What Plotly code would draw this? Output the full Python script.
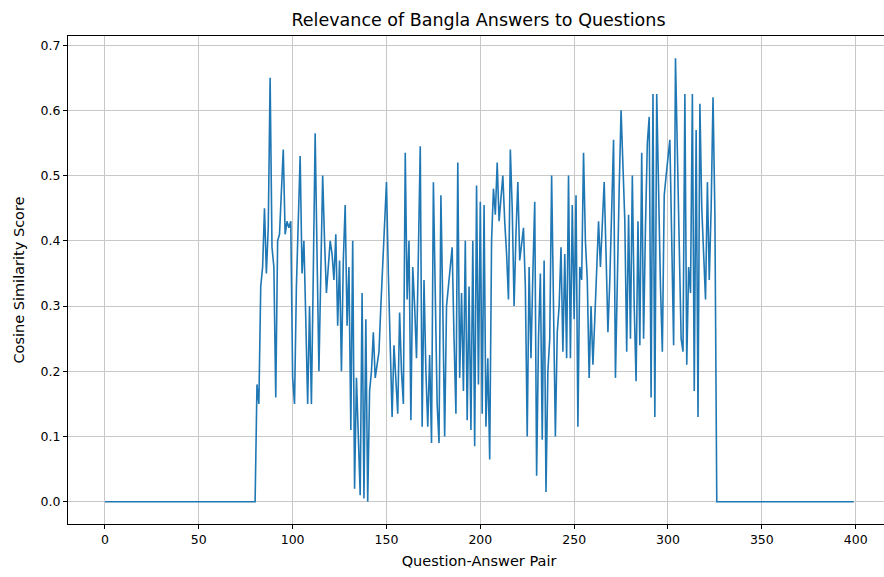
import plotly.graph_objects as go

# Cosine similarity scores per question-answer pair (index 0..399)
leading_zeros = [0.0] * 81  # indices 0..80
active_scores = [
    0.18, 0.15, 0.33, 0.36, 0.45, 0.35, 0.42, 0.65, 0.39,  # 81-89
    0.36, 0.16, 0.40, 0.41, 0.47, 0.54, 0.41, 0.43, 0.42, 0.43,  # 90-99
    0.19, 0.15, 0.33, 0.45, 0.53, 0.35, 0.40, 0.28, 0.15, 0.30,  # 100-109
    0.15, 0.35, 0.565, 0.38, 0.20, 0.35, 0.50, 0.40, 0.32, 0.36,  # 110-119
    0.40, 0.38, 0.34, 0.41, 0.27, 0.37, 0.20, 0.37, 0.455, 0.27,  # 120-129
    0.36, 0.11, 0.40, 0.02, 0.19, 0.10, 0.01, 0.32, 0.005, 0.28,  # 130-139
    0.0, 0.17, 0.20, 0.26, 0.19, 0.21, 0.23, 0.30, 0.37, 0.43,  # 140-149
    0.49, 0.35, 0.22, 0.13, 0.24, 0.18, 0.135, 0.29, 0.20, 0.15,  # 150-159
    0.535, 0.31, 0.40, 0.125, 0.36, 0.30, 0.22, 0.38, 0.545, 0.115,  # 160-169
    0.34, 0.20, 0.115, 0.225, 0.09, 0.49, 0.30, 0.15, 0.09, 0.47,  # 170-179
    0.30, 0.10, 0.30, 0.33, 0.36, 0.39, 0.25, 0.135, 0.52, 0.19,  # 180-189
    0.32, 0.17, 0.40, 0.125, 0.33, 0.11, 0.40, 0.085, 0.485, 0.18,  # 190-199
    0.46, 0.135, 0.455, 0.115, 0.22, 0.065, 0.40, 0.48, 0.44, 0.52,  # 200-209
    0.43, 0.47, 0.50, 0.43, 0.38, 0.31, 0.54, 0.45, 0.30, 0.41,  # 210-219
    0.49, 0.37, 0.40, 0.42, 0.33, 0.10, 0.36, 0.22, 0.35, 0.46,  # 220-229
    0.04, 0.25, 0.35, 0.095, 0.37, 0.015, 0.20, 0.25, 0.50, 0.30,  # 230-239
    0.10, 0.26, 0.30, 0.39, 0.23, 0.38, 0.22, 0.50, 0.22, 0.455,  # 240-249
    0.28, 0.47, 0.115, 0.36, 0.34, 0.535, 0.40, 0.34, 0.19, 0.30,  # 250-259
    0.21, 0.28, 0.36, 0.43, 0.36, 0.42, 0.49, 0.38, 0.26, 0.34,  # 260-269
    0.45, 0.555, 0.19, 0.35, 0.48, 0.60, 0.50, 0.43, 0.23, 0.44,  # 270-279
    0.25, 0.50, 0.30, 0.185, 0.43, 0.24, 0.535, 0.25, 0.42, 0.55,  # 280-289
    0.59, 0.16, 0.625, 0.13, 0.625, 0.45, 0.33, 0.23, 0.47, 0.50,  # 290-299
    0.53, 0.555, 0.40, 0.24, 0.68, 0.55, 0.40, 0.25, 0.23, 0.625,  # 300-309
    0.21, 0.36, 0.32, 0.625, 0.17, 0.57, 0.13, 0.61, 0.45, 0.38,  # 310-319
    0.31, 0.49, 0.34, 0.45, 0.62, 0.44,  # 320-325
]
trailing_zeros = [0.0] * (400 - 81 - len(active_scores))
scores = leading_zeros + active_scores + trailing_zeros
pair_index = list(range(len(scores)))

x_ticks = [0, 50, 100, 150, 200, 250, 300, 350, 400]
y_ticks = [0.0, 0.1, 0.2, 0.3, 0.4, 0.5, 0.6, 0.7]

FONT = "DejaVu Sans, Arial, sans-serif"

fig = go.Figure()
fig.add_trace(go.Scatter(
    x=pair_index, y=scores, mode="lines",
    line=dict(color="#1f77b4", width=1.6),
    showlegend=False,
))

axis_common = dict(
    showgrid=True, gridcolor="#c8c8c8", gridwidth=1,
    showline=True, linecolor="black", linewidth=1,
    ticks="outside", ticklen=4, tickcolor="black", tickwidth=1,
    zeroline=False,
    tickfont=dict(family=FONT, size=12.5, color="black"),
)

W = 890
fig.update_layout(
    width=W, height=577,
    paper_bgcolor="white", plot_bgcolor="white",
    margin=dict(l=68, r=0, t=36, b=53),
    title=dict(text="Relevance of Bangla Answers to Questions",
               x=478.5 / W, xanchor="center", y=1 - 20 / 577, yanchor="middle",
               font=dict(family=FONT, size=17.5, color="black")),
    xaxis=dict(range=[-19.7, 418.3], tickvals=x_ticks, mirror=True,
               title=dict(text="Question-Answer Pair", standoff=9,
                          font=dict(family=FONT, size=14.5, color="black")),
               **axis_common),
    yaxis=dict(range=[-0.034, 0.714], tickvals=y_ticks, tickformat=".1f", mirror=False,
               title=dict(text="Cosine Similarity Score", standoff=12,
                          font=dict(family=FONT, size=14.5, color="black")),
               **axis_common),
)

fig.write_html(
    "out.html",
    config={"displayModeBar": False},
    post_script="document.body.style.margin='0';document.body.style.overflow='hidden';",
)
